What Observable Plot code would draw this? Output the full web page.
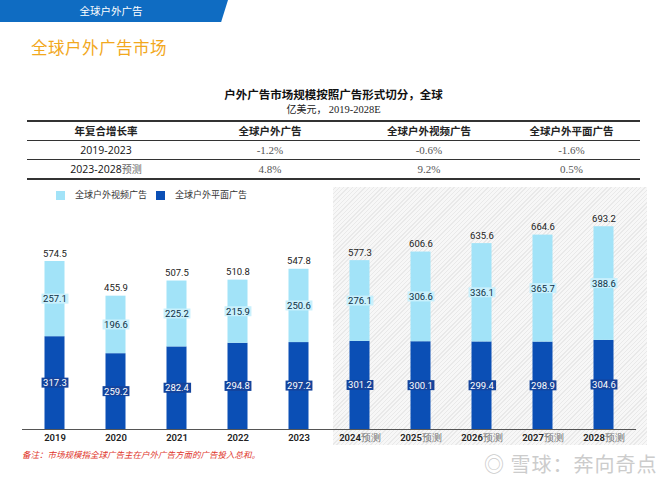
<!DOCTYPE html>
<html><head><meta charset="utf-8">
<script src="https://cdn.jsdelivr.net/npm/d3@7"></script>
<script src="https://cdn.jsdelivr.net/npm/@observablehq/plot@0.6"></script>
<style>
html,body{margin:0;padding:0;background:#fff;}
#page{position:relative;width:667px;height:500px;overflow:hidden;font-family:"Noto Sans CJK SC",sans-serif;}
.abs{position:absolute;white-space:nowrap;}
#bar{left:0;top:0;width:228px;height:22px;background:#0f6cc2;clip-path:polygon(0 0,100% 0,97% 100%,0 100%);}
#bartxt{left:0;top:0;width:222px;height:22px;line-height:22px;text-align:center;color:#fff;font-size:10.5px;}
#h1{left:31px;top:37px;line-height:20px;font-size:16.5px;color:#f2a81d;letter-spacing:0.5px;}
#ctitle{left:0;width:667px;top:87px;line-height:14px;text-align:center;font-size:11.5px;font-weight:700;color:#111;}
#csub{left:0;width:667px;top:102px;line-height:13px;text-align:center;font-size:10px;color:#222;}
#csub span{font-family:"Liberation Serif",serif;font-size:10.5px;}
#tbl{left:27px;top:120px;width:613px;border-collapse:collapse;font-size:10.5px;}
#tbl td{text-align:center;height:18px;padding:0;line-height:14px;}
#tbl tr.h td{font-weight:700;color:#222;border-top:2px solid #333;border-bottom:1.5px solid #333;}
#tbl tr.r1 td{border-bottom:1.5px solid #333;}
#tbl tr.r2 td{border-bottom:2px solid #333;}
#tbl td.k{font-family:"Open Sans",sans-serif;color:#111;}
#tbl td.k span{font-family:"Noto Sans CJK SC";color:#666;font-size:10px;}
#tbl td.v{font-family:"Liberation Serif",serif;color:#555;font-size:11px;}
#hatch{left:333px;top:187px;width:314px;height:258px;background:repeating-linear-gradient(-45deg,#e9e9e9 0 1px,#f7f7f7 1px 3px);}
#legend{left:56px;top:188px;line-height:14px;font-size:9px;color:#333;display:flex;align-items:center;}
#legend i{display:inline-block;width:9px;height:9px;margin-right:10px;}
#chart{left:0;top:185px;}
#note{left:22px;top:448px;line-height:12px;font-size:8.5px;color:#e0352b;font-style:italic;}
#wm{left:484px;top:451px;line-height:26px;font-size:20px;color:#cccccc;letter-spacing:1px;}
</style></head>
<body><div id="page">
<div id="bar" class="abs"></div><div id="bartxt" class="abs">全球户外广告</div>
<div id="h1" class="abs">全球户外广告市场</div>
<div id="ctitle" class="abs">户外广告市场规模按照广告形式切分，全球</div>
<div id="csub" class="abs">亿美元， <span>2019-2028E</span></div>
<table id="tbl" class="abs"></table>
<div id="hatch" class="abs"></div>
<div id="legend" class="abs"></div>
<div id="chart" class="abs"></div>
<div id="note" class="abs">备注：市场规模指全球广告主在户外广告方面的广告投入总和。</div>
<div id="wm" class="abs">◎ 雪球：奔向奇点</div>
</div>
<script>
// ---- data ----
const years = ["2019","2020","2021","2022","2023","2024预测","2025预测","2026预测","2027预测","2028预测"];
const videoAd = [257.1,196.6,225.2,215.9,250.6,276.1,306.6,336.1,365.7,388.6];
const printAd = [317.3,259.2,282.4,294.8,297.2,301.2,300.1,299.4,298.9,304.6];
const totals  = [574.5,455.9,507.5,510.8,547.8,577.3,606.6,635.6,664.6,693.2];
const seriesNames = ["全球户外视频广告","全球户外平面广告"];
const seriesColors = ["#a2e3f8","#0b4fb5"];
const cagrHeaders = ["年复合增长率","全球户外广告","全球户外视频广告","全球户外平面广告"];
const cagrPeriods = ["2019-2023","2023-2028预测"];
const cagrTotal = ["-1.2%","4.8%"];
const cagrVideo = ["-0.6%","9.2%"];
const cagrPrint = ["-1.6%","0.5%"];

// ---- table ----
const tbl = d3.select("#tbl");
tbl.append("tr").attr("class","h").selectAll("td").data(cagrHeaders).join("td").text(d=>d);
cagrPeriods.forEach((p,i)=>{
  const tr = tbl.append("tr").attr("class", i===0?"r1":"r2");
  const k = tr.append("td").attr("class","k");
  const m = p.match(/^([0-9-]+)(.*)$/);
  k.text(m[1]); if (m[2]) k.append("span").text(m[2]);
  [cagrTotal[i],cagrVideo[i],cagrPrint[i]].forEach(v=>tr.append("td").attr("class","v").text(v));
});
d3.select("#tbl").selectAll("tr").each(function(){
  const tds=d3.select(this).selectAll("td").nodes();
  const w=[158,170,148,137];
  tds.forEach((td,j)=>td.style.width=w[j]+"px");
});

// ---- legend ----
const lg = d3.select("#legend");
seriesNames.forEach((n,i)=>{
  lg.append("i").style("background",seriesColors[i]);
  lg.append("span").style("margin-right", i===0?"9px":"0").text(n);
});

// ---- chart ----
const rows = [];
years.forEach((y,i)=>{
  rows.push({year:y, type:seriesNames[1], value:printAd[i], mid:printAd[i]/2});
  rows.push({year:y, type:seriesNames[0], value:videoAd[i], mid:printAd[i]+videoAd[i]/2});
});
const totalRows = years.map((y,i)=>({year:y,total:totals[i]}));
const numFont = "Roboto, 'Open Sans', sans-serif";

const chart = Plot.plot({
  width: 667, height: 262,
  marginLeft: 22, marginRight: 31, marginTop: 10, marginBottom: 18,
  style: {background:"transparent", fontFamily: numFont},
  x: {domain: years, padding: 0, label: null, tickSize: 0, tickPadding: 4},
  y: {domain: [0, 800], axis: null},
  color: {domain: seriesNames, range: seriesColors},
  marks: [
    Plot.barY(rows, {x:"year", y:"value", fill:"type", order: [seriesNames[1], seriesNames[0]], insetLeft: 20.5, insetRight: 20.5}),
    Plot.ruleY([0], {stroke:"#555", strokeWidth:1.2}),
    Plot.text(totalRows, {x:"year", y:"total", text: d=>d.total.toFixed(1), dy:-8, fill:"#222", fontSize:9.5}),
    Plot.text(rows.filter(d=>d.type===seriesNames[0]), {x:"year", y:"mid", text:d=>d.value.toFixed(1), fill:"#0d2f44", fontSize:9.5, className:"lab-light"}),
    Plot.text(rows.filter(d=>d.type===seriesNames[1]), {x:"year", y:"mid", text:d=>d.value.toFixed(1), fill:"#ffffff", fontSize:9.5, className:"lab-dark"}),
    Plot.axisX({tickSize:0, fontSize:9.5, fontWeight:600, fill:"#222", tickPadding:5, label:null, className:"xax"})
  ]
});
document.getElementById("chart").appendChild(chart);

function boxes(cls, color){
  d3.select(chart).selectAll("." + cls + " text").each(function(){
    const b = this.getBBox();
    const tr = this.getAttribute("transform");
    const r = d3.select(this.parentNode).insert("rect", () => this)
      .attr("x", (+this.getAttribute("x")||0) + b.x - (+this.getAttribute("x")||0) - 1.5)
      .attr("y", b.y + 0.5).attr("width", b.width + 3).attr("height", b.height - 1)
      .attr("fill", color);
    if (tr) r.attr("transform", tr);
  });
}
boxes("lab-light", "#c9f0fc");
boxes("lab-dark", "#15449c");

// lighter "预测" suffix in tick labels
d3.select(chart).selectAll(".xax text").each(function(){
  const t = this.textContent;
  const m = t.match(/^(\d+)(.*)$/);
  if (m && m[2]) {
    const s = d3.select(this); s.text(m[1]);
    s.append("tspan").attr("fill","#777").attr("font-weight","400").text(m[2]);
  }
});
</script>
</body></html>
